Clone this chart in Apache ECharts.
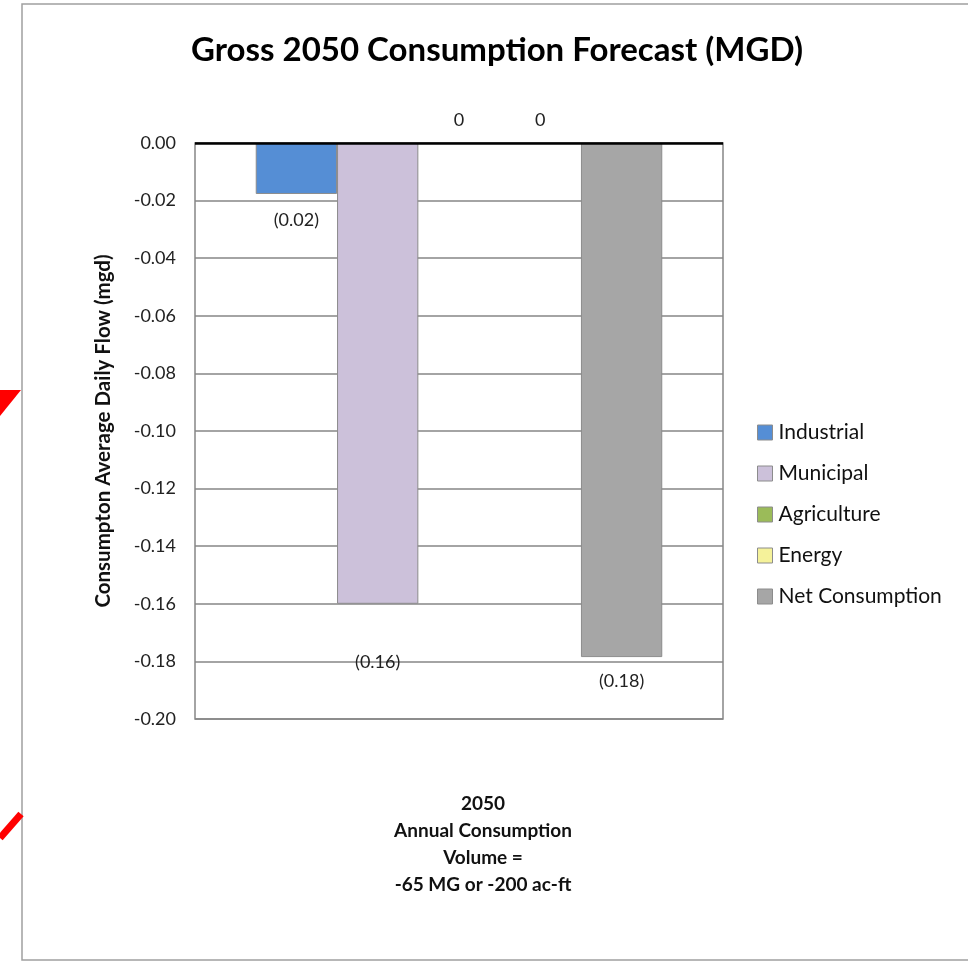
<!DOCTYPE html>
<html>
<head>
<meta charset="utf-8">
<script src="https://cdn.jsdelivr.net/npm/echarts@6/dist/echarts.min.js"></script>
<style>
  html, body { margin: 0; padding: 0; background: #fff; }
  #chart { width: 968px; height: 962px; }
</style>
</head>
<body>
<div id="chart"></div>
<script>
// Values (mgd); labels are the rounded figures Excel printed.
const categories = ['2050\nAnnual Consumption\nVolume =\n-65 MG or -200 ac-ft'];
const seriesNames = ['Industrial', 'Municipal', 'Agriculture', 'Energy', 'Net Consumption'];
const seriesValues = [-0.0177, -0.160, 0, 0, -0.1785];
const seriesColors = ['#558ED5', '#CCC1DA', '#9BBB59', '#F5F29A', '#A6A6A6'];
const labelGaps = [17, 49, 13, 13, 15]; // Excel put the labels a bit all over the place
const yTicks = [0, -0.02, -0.04, -0.06, -0.08, -0.10, -0.12, -0.14, -0.16, -0.18, -0.20];

const FONT = 'Lato, "Open Sans", sans-serif';

// (0.02) style for negatives, bare 0 for zero
const fmt = (v) => v === 0 ? '0' : (v < 0 ? '(' + Math.abs(v).toFixed(2) + ')' : v.toFixed(2));

const chart = echarts.init(document.getElementById('chart'), null, { renderer: 'canvas' });

const series = seriesNames.map((name, i) => ({
  name, type: 'bar',
  barGap: '0%', barCategoryGap: '23%',
  itemStyle: { color: seriesColors[i], borderColor: '#8C8C8C', borderWidth: 1 },
  label: {
    show: true,
    position: seriesValues[i] < 0 ? 'bottom' : 'top',
    distance: labelGaps[i],
    formatter: (p) => fmt(p.value),
    fontFamily: FONT, fontSize: 18, color: '#222',
  },
  data: [seriesValues[i]],
}));

chart.setOption({
  animation: false,
  backgroundColor: '#fff',
  title: {
    text: 'Gross 2050 Consumption Forecast (MGD)',
    left: 492, top: 29, textAlign: 'center',
    textStyle: { fontFamily: FONT, fontSize: 33, fontWeight: 'bold', color: '#000' },
  },
  legend: {
    orient: 'vertical', left: 752, top: 417, itemGap: 20,
    itemWidth: 15, itemHeight: 15, icon: 'rect',
    itemStyle: { borderColor: '#8C8C8C', borderWidth: 1 },
    textStyle: { fontFamily: FONT, fontSize: 21, color: '#111', padding: [0, 0, 0, 1] },
    data: seriesNames,
  },
  grid: { left: 195, right: 245, top: 143, bottom: 243, show: true, borderColor: '#868686', borderWidth: 1.5 },
  xAxis: {
    type: 'category', data: categories, position: 'bottom',
    axisLine: { show: false }, axisTick: { show: false },
    axisLabel: {
      margin: 71, fontFamily: FONT, fontSize: 19, fontWeight: 'bold', color: '#111',
      lineHeight: 27, padding: [0, 0, 0, 48],
    },
  },
  yAxis: {
    type: 'value', min: -0.20, max: 0, interval: 0.02,
    name: 'Consumpton Average Daily Flow (mgd)', nameLocation: 'middle', nameGap: 81, nameRotate: 90,
    nameTextStyle: { fontFamily: FONT, fontSize: 20.5, fontWeight: 'bold', color: '#111' },
    axisLine: { show: false }, axisTick: { show: false },
    axisLabel: {
      margin: 19, fontFamily: FONT, fontSize: 18, color: '#222',
      formatter: (v) => v.toFixed(2),
    },
    splitLine: { lineStyle: { color: '#868686', width: 1.5 } },
  },
  series: series.concat([{
    // black zero line across the top of the plot
    type: 'line', silent: true, data: [],
    markLine: { symbol: 'none', silent: true, label: { show: false },
      lineStyle: { color: '#000', width: 2.5, type: 'solid' }, data: [{ yAxis: yTicks[0] }] },
  }]),
  graphic: [
    { type: 'rect', shape: { x: 22, y: 4, width: 960, height: 956 }, style: { fill: 'none', stroke: '#A0A0A0', lineWidth: 1.5 }, z: -1 },
    { type: 'polygon', shape: { points: [[0, 390], [21, 390], [0, 416]] }, style: { fill: '#FF0000' } },
    { type: 'line', shape: { x1: 0, y1: 838, x2: 21, y2: 814 }, style: { stroke: '#FF0000', lineWidth: 7 } },
  ],
});
</script>
</body>
</html>
